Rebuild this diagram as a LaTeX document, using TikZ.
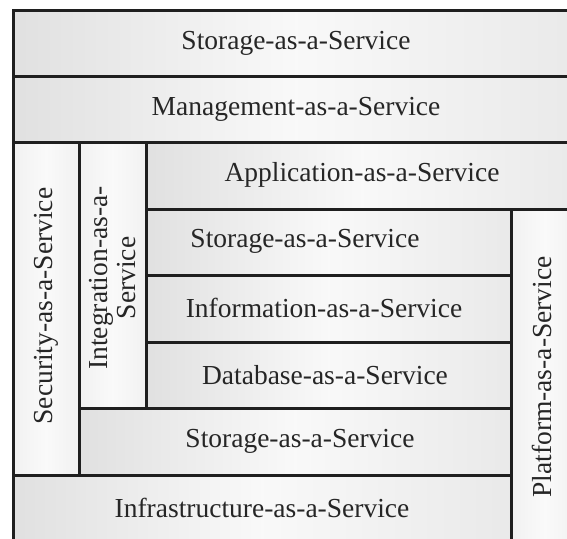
\documentclass[tikz,border=0pt]{standalone}
\usepackage{fontspec}
\setmainfont{Liberation Serif}
\begin{document}
\begin{tikzpicture}[x=1pt,y=-1pt,
  panel/.style={draw=black!88, line width=3pt, left color=gray!24, right color=gray!17, middle color=gray!5},
  vpanel/.style={draw=black!88, line width=3pt, left color=gray!11, right color=gray!11, middle color=gray!4},
  lbl/.style={text=black!85, font=\fontsize{27.5}{29}\selectfont, inner sep=0pt, align=center}]
\useasboundingbox (0,0) rectangle (567,538);
\clip (0,0) rectangle (567,538);
\fill[white] (0,0) rectangle (567,538);
% panels
\path[panel] (13,10) rectangle (578,76);
\path[panel] (13,76) rectangle (578,142);
\path[vpanel] (13,142) rectangle (79,475);
\path[vpanel] (79,142) rectangle (146,408);
\path[panel] (146,142) rectangle (578,209);
\path[panel] (146,209) rectangle (511,275);
\path[panel] (146,275) rectangle (511,342);
\path[panel] (146,342) rectangle (511,408);
\path[panel] (79,408) rectangle (511,475);
\path[panel] (13,475) rectangle (511,541);
\path[vpanel] (511,209) rectangle (578,541);
% labels
\node[lbl] (stor1) at (296,43) {Storage-as-a-Service};
\node[lbl] (mgmt) at (296,109) {Management-as-a-Service};
\node[lbl] (app) at (362,175) {Application-as-a-Service};
\node[lbl] (stor2) at (305,241) {Storage-as-a-Service};
\node[lbl] (info) at (324,308) {Information-as-a-Service};
\node[lbl] (db) at (325,375) {Database-as-a-Service};
\node[lbl] (stor3) at (300,441) {Storage-as-a-Service};
\node[lbl] (infra) at (262,508) {Infrastructure-as-a-Service};
\node[lbl, rotate=90] (sec) at (46,306) {Security-as-a-Service};
\node[lbl, rotate=90, font=\fontsize{27.5}{28}\selectfont] (integ) at (113,278) {Integration-as-a-\\Service};
\node[lbl, rotate=90] (plat) at (542,377) {Platform-as-a-Service};
\end{tikzpicture}
\end{document}
